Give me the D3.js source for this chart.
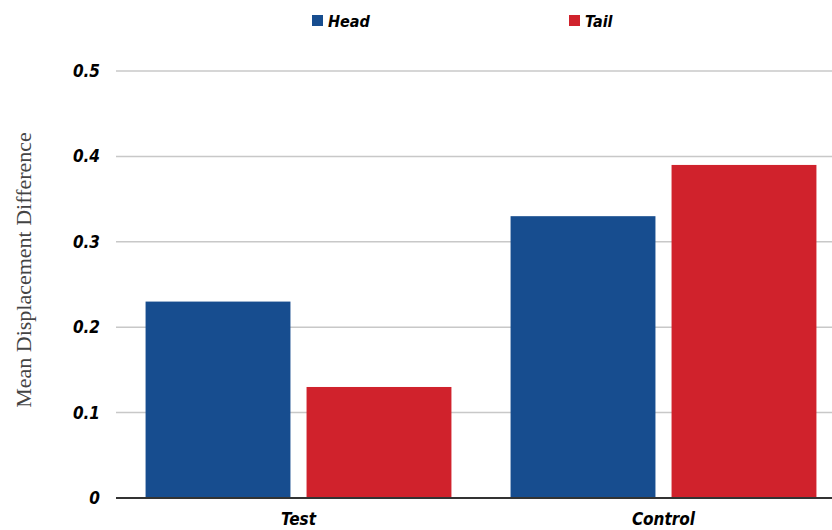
<!DOCTYPE html>
<html>
<head>
<meta charset="utf-8">
<script src="https://cdn.jsdelivr.net/npm/d3@7"></script>
<style>
  body { margin: 0; background: #fff; }
  .lbl { font-family: "DejaVu Sans Condensed", "DejaVu Sans", sans-serif; font-stretch: condensed; font-weight: 700; font-style: italic; }
</style>
</head>
<body>
<div id="chart"></div>
<script>
const groups = ["Test", "Control"];
const seriesNames = ["Head", "Tail"];
const headValues = [0.23, 0.33];
const tailValues = [0.13, 0.39];
const yTicks = [0, 0.1, 0.2, 0.3, 0.4, 0.5];
const seriesColors = ["#174d8f", "#d0222c"];

const width = 832;
const height = 530;

const svg = d3.select("#chart")
  .append("svg")
  .attr("width", width)
  .attr("height", height);

const y = d3.scaleLinear()
  .domain([0, 0.5])
  .range([498, 71]);

const x0 = d3.scaleBand()
  .domain(groups)
  .range([116, 846])
  .paddingInner(0.162)
  .paddingOuter(0.081);

const x1 = d3.scaleBand()
  .domain(seriesNames)
  .range([0, x0.bandwidth()])
  .paddingInner(0.1)
  .paddingOuter(0);

const color = d3.scaleOrdinal()
  .domain(seriesNames)
  .range(seriesColors);

// gridlines
svg.append("g")
  .selectAll("line")
  .data(yTicks.filter(d => d > 0))
  .enter()
  .append("line")
  .attr("x1", 116)
  .attr("x2", width)
  .attr("y1", d => y(d))
  .attr("y2", d => y(d))
  .attr("stroke", "#c8c8c8")
  .attr("stroke-width", 1.5);

// y tick labels
svg.append("g")
  .selectAll("text")
  .data(yTicks)
  .enter()
  .append("text")
  .attr("class", "lbl")
  .attr("x", 100)
  .attr("y", d => y(d) + 6)
  .attr("text-anchor", "end")
  .attr("font-size", "17px")
  .attr("fill", "#000")
  .text(d => d === 0 ? "0" : d.toFixed(1));

const rows = groups.map((g, i) => ({
  group: g,
  values: [
    { series: "Head", value: headValues[i] },
    { series: "Tail", value: tailValues[i] }
  ]
}));

const groupSel = svg.append("g")
  .selectAll("g")
  .data(rows)
  .enter()
  .append("g")
  .attr("transform", d => `translate(${x0(d.group)},0)`);

groupSel.selectAll("rect")
  .data(d => d.values)
  .enter()
  .append("rect")
  .attr("x", d => x1(d.series))
  .attr("y", d => y(d.value))
  .attr("width", x1.bandwidth())
  .attr("height", d => y(0) - y(d.value))
  .attr("fill", d => color(d.series));

// baseline
svg.append("line")
  .attr("x1", 116)
  .attr("x2", width)
  .attr("y1", y(0))
  .attr("y2", y(0))
  .attr("stroke", "#333")
  .attr("stroke-width", 2);

// x labels
svg.append("g")
  .selectAll("text")
  .data(groups)
  .enter()
  .append("text")
  .attr("class", "lbl")
  .attr("x", d => x0(d) + x0.bandwidth() / 2)
  .attr("y", 525)
  .attr("text-anchor", "middle")
  .attr("font-size", "17px")
  .attr("fill", "#000")
  .text(d => d);

// y title
svg.append("text")
  .attr("transform", `translate(31, 270) rotate(-90)`)
  .attr("text-anchor", "middle")
  .attr("font-family", "'Liberation Serif', 'Times New Roman', serif")
  .attr("font-size", "22px")
  .attr("fill", "#444")
  .text("Mean Displacement Difference");

// legend
const legendX = [312, 569];
const legend = svg.append("g")
  .selectAll("g")
  .data(seriesNames)
  .enter()
  .append("g")
  .attr("transform", (d, i) => `translate(${legendX[i]}, 15)`);

legend.append("rect")
  .attr("width", 11)
  .attr("height", 11)
  .attr("fill", d => color(d));

legend.append("text")
  .attr("class", "lbl")
  .attr("x", 16)
  .attr("y", 12)
  .attr("font-size", "16px")
  .attr("fill", "#000")
  .text(d => d);
</script>
</body>
</html>
